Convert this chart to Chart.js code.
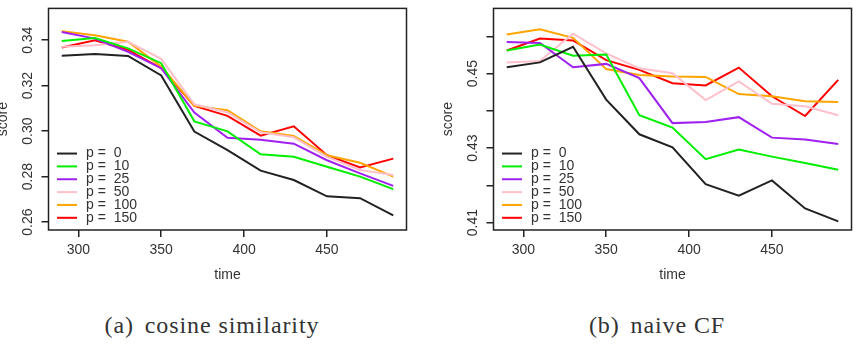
<!DOCTYPE html>
<html>
<head>
<meta charset="utf-8">
<script src="https://cdn.jsdelivr.net/npm/chart.js@4.4.1/dist/chart.umd.min.js"></script>
<style>
  html, body { margin: 0; padding: 0; background: #fff; overflow: hidden; }
  body { width: 860px; height: 347px; position: relative; }
  .panel { position: absolute; top: 0; width: 430px; height: 300px; }
  .caption {
    position: absolute; top: 314px; width: 300px; text-align: center;
    font-family: "Liberation Serif", serif; font-size: 24px; line-height: 23px;
    letter-spacing: 0.9px; color: #333; white-space: nowrap;
  }
  .caption .tag { margin-right: 4px; }
</style>
</head>
<body>
<div class="panel" style="left:-15px"><canvas id="cosine-chart"></canvas></div>
<div class="panel" style="left:430px"><canvas id="naive-chart"></canvas></div>
<div class="caption" style="left:62px"><span class="tag">(a)</span> cosine similarity</div>
<div class="caption" style="left:507px"><span class="tag">(b)</span> naive CF</div>
<script>
// Shared x values and legend entries
const times = [290, 310, 330, 350, 370, 390, 410, 430, 450, 470, 490];
const pValues = [0, 10, 25, 50, 100, 150];
const seriesColors = ["#222222", "#00ee00", "#a020f0", "#ffc0cb", "#ffa500", "#ff0000"];

// (a) cosine similarity
const cosineP0 = [0.3332, 0.3339, 0.3331, 0.3245, 0.2998, 0.2916, 0.2826, 0.2785, 0.2713, 0.2705, 0.2629];
const cosineP10 = [0.3397, 0.3410, 0.3364, 0.3299, 0.3043, 0.2999, 0.2898, 0.2887, 0.2843, 0.2800, 0.2745];
const cosineP25 = [0.3436, 0.3407, 0.3349, 0.3277, 0.3082, 0.2971, 0.2962, 0.2945, 0.2872, 0.2814, 0.2759];
const cosineP50 = [0.3371, 0.3378, 0.3393, 0.3318, 0.3118, 0.3082, 0.2995, 0.2973, 0.2887, 0.2829, 0.2807];
const cosineP100 = [0.3439, 0.3422, 0.3393, 0.3284, 0.3111, 0.3092, 0.2999, 0.2979, 0.2894, 0.2861, 0.2800];
const cosineP150 = [0.3368, 0.3400, 0.3357, 0.3277, 0.3111, 0.3067, 0.2980, 0.3021, 0.2894, 0.2840, 0.2879];
const cosineYLabels = ["0.26", "0.28", "0.30", "0.32", "0.34"];

// (b) naive CF
const naiveP0 = [0.4517, 0.4530, 0.4572, 0.4430, 0.4337, 0.4302, 0.4203, 0.4172, 0.4213, 0.4138, 0.4103];
const naiveP10 = [0.4562, 0.4578, 0.4548, 0.4551, 0.4388, 0.4355, 0.4270, 0.4296, 0.4277, 0.4260, 0.4242];
const naiveP25 = [0.4585, 0.4582, 0.4517, 0.4526, 0.4488, 0.4367, 0.4370, 0.4383, 0.4328, 0.4323, 0.4311];
const naiveP50 = [0.4530, 0.4534, 0.4607, 0.4554, 0.4514, 0.4501, 0.4429, 0.4479, 0.4419, 0.4412, 0.4388];
const naiveP100 = [0.4605, 0.4619, 0.4596, 0.4512, 0.4496, 0.4492, 0.4491, 0.4445, 0.4439, 0.4426, 0.4424];
const naiveP150 = [0.4562, 0.4594, 0.4589, 0.4536, 0.4510, 0.4474, 0.4468, 0.4516, 0.4439, 0.4386, 0.4483];
const naiveYLabels = ["0.41", "0.43", "0.45"];

const axisFont = { family: "Liberation Sans", size: 14 };
const inkColor = "#333333";

// R-style box around the plotting region
const frameBox = {
  id: "frameBox",
  afterDraw(chart) {
    const { ctx, chartArea: a } = chart;
    ctx.save();
    ctx.strokeStyle = "#222";
    ctx.lineWidth = 1.5;
    ctx.strokeRect(a.left, a.top, a.right - a.left, a.bottom - a.top);
    ctx.restore();
  },
};

// legend drawn inside the plot, bottom-left, no box (like bty="n")
const insetLegend = {
  id: "insetLegend",
  afterDatasetsDraw(chart, args, opts) {
    const { ctx, chartArea } = chart;
    const sets = chart.data.datasets;
    ctx.save();
    ctx.font = '14px "Liberation Sans"';
    ctx.textBaseline = "middle";
    sets.forEach((ds, i) => {
      const y = chartArea.bottom - opts.bottom - (sets.length - 1 - i) * opts.rowHeight;
      const x0 = chartArea.left + opts.lineStart;
      ctx.strokeStyle = ds.borderColor;
      ctx.lineWidth = 2;
      ctx.beginPath();
      ctx.moveTo(x0, y);
      ctx.lineTo(x0 + 20, y);
      ctx.stroke();
      ctx.fillStyle = inkColor;
      ctx.fillText(ds.label, chartArea.left + opts.textStart, y);
    });
    ctx.restore();
  },
};

function buildChart(canvasId, seriesList, yMin, yMax, yStep, yLabels) {
  const datasets = seriesList.map((values, i) => ({
    label: "p =  " + pValues[i],
    data: times.map((t, j) => ({ x: t, y: values[j] })),
    borderColor: seriesColors[i],
    borderWidth: 2,
    pointRadius: 0,
    tension: 0,
    fill: false,
  }));

  return new Chart(document.getElementById(canvasId), {
    type: "line",
    data: { datasets },
    options: {
      responsive: true,
      maintainAspectRatio: false,
      animation: false,
      layout: { padding: { top: 6, right: 8.5, bottom: 0, left: 0 } },
      plugins: {
        legend: { display: false },
        tooltip: { enabled: false },
        insetLegend: { bottom: 12.2, rowHeight: 12.85, lineStart: 8.5, textStart: 37.5 },
      },
      scales: {
        x: {
          type: "linear",
          min: 282,
          max: 498,
          afterFit: (s) => { s.height = 70; },
          border: { display: false },
          grid: { drawOnChartArea: false, drawTicks: true, tickLength: 7, color: "#222", lineWidth: 1.5 },
          ticks: { stepSize: 50, includeBounds: false, padding: 4.6, color: inkColor, font: axisFont, maxRotation: 0 },
          title: { display: true, text: "time", color: inkColor, font: axisFont, padding: { top: 0, bottom: 16.1 } },
        },
        y: {
          min: yMin,
          max: yMax,
          afterFit: (s) => { s.width = 63.5; },
          border: { display: false },
          grid: { drawOnChartArea: false, drawTicks: true, tickLength: 7, color: "#222", lineWidth: 1.5 },
          ticks: {
            stepSize: yStep,
            includeBounds: false,
            minRotation: 90,
            maxRotation: 90,
            crossAlign: "center",
            padding: 0,
            color: inkColor,
            font: axisFont,
            callback: (v) => {
              const s = v.toFixed(2);
              return yLabels.includes(s) ? s : "";
            },
          },
          title: { display: true, text: "score", color: inkColor, font: axisFont, padding: { top: 10.1, bottom: 0 } },
        },
      },
    },
    plugins: [frameBox, insetLegend],
  });
}

buildChart("cosine-chart",
  [cosineP0, cosineP10, cosineP25, cosineP50, cosineP100, cosineP150],
  0.2565, 0.354, 0.02, cosineYLabels);

buildChart("naive-chart",
  [naiveP0, naiveP10, naiveP25, naiveP50, naiveP100, naiveP150],
  0.408, 0.4675, 0.01, naiveYLabels);
</script>
</body>
</html>
